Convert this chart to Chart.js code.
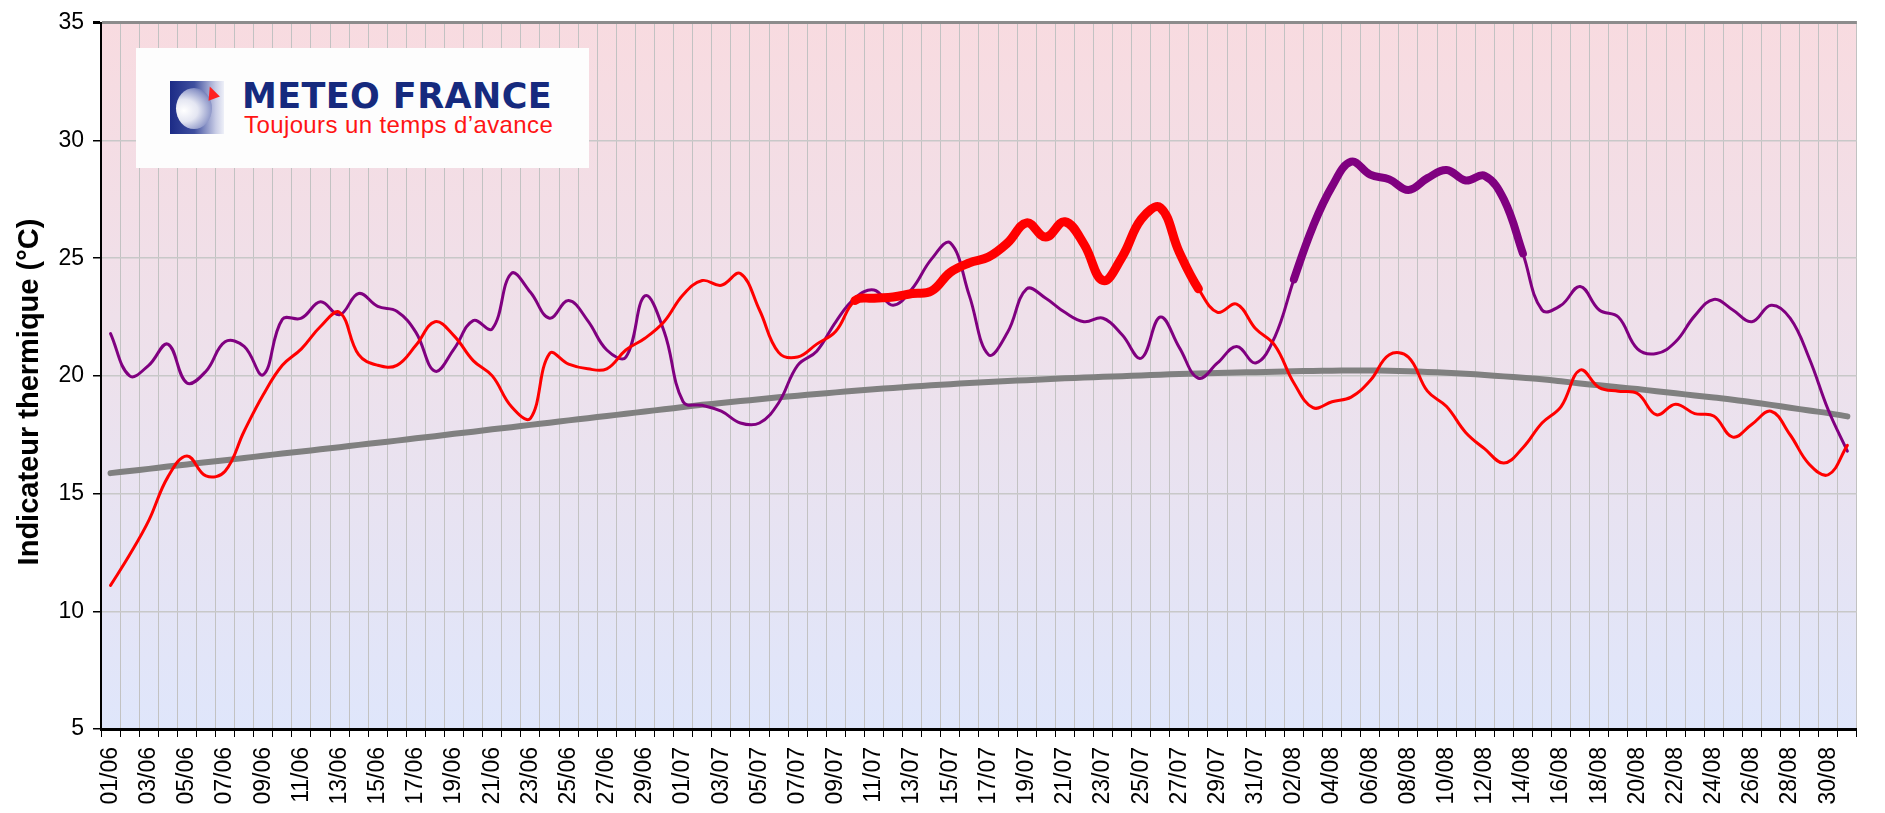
<!DOCTYPE html>
<html lang="fr">
<head>
<meta charset="utf-8">
<title>Indicateur thermique</title>
<script src="https://cdn.jsdelivr.net/npm/chart.js@4.4.0/dist/chart.umd.min.js"></script>
<style>
  body { margin: 0; background: #fff; }
  #wrap { position: relative; width: 1885px; height: 813px; }
  #graphe { display: block; }
  #logo { position: absolute; left: 136px; top: 48px; width: 453px; height: 120px; background: #fdfdfd;
          font-family: 'Liberation Sans', Arial, sans-serif; }
  #icone { position: absolute; left: 34px; top: 33px; width: 54px; height: 53px;
           background: linear-gradient(to right, #1c2b86 0%, #3f4f9f 45%, #c9cde6 85%, #eef0f8 100%); }
  #ovale { position: absolute; left: 6px; top: 7px; width: 36px; height: 41px; border-radius: 50%;
           background: radial-gradient(ellipse at 22% 55%, #ffffff 0%, #e4e6f2 35%, #8f98c9 70%, #2d3c91 100%); }
  #fleche { position: absolute; left: 36px; top: 5px; width: 0; height: 0;
            border-left: 6px solid transparent; border-right: 6px solid transparent; border-bottom: 13px solid #ff2020;
            transform: rotate(-20deg); }
  #marque { position: absolute; left: 106px; top: 33px; font-family: 'DejaVu Sans', sans-serif; font-size: 35px;
            line-height: 30px; font-weight: bold; color: #162a7e; letter-spacing: 0.4px; white-space: nowrap; }
  #devise { position: absolute; left: 108px; top: 66px; font-size: 24px; line-height: 22px; color: #ff1414;
            letter-spacing: 0.4px; white-space: nowrap; }
</style>
</head>
<body>
<div id="wrap">
  <canvas id="graphe" width="1885" height="813"></canvas>
  <div id="logo">
    <div id="icone"><div id="ovale"></div><div id="fleche"></div></div>
    <div id="marque">METEO FRANCE</div>
    <div id="devise">Toujours un temps d’avance</div>
  </div>
</div>
<script>
// jours du 01/06 au 31/08
var jours = [];
var nbJoursMois = [30, 31, 31];
var mois = ['06', '07', '08'];
for (var m = 0; m < 3; m++) {
    for (var j = 1; j <= nbJoursMois[m]; j++) {
        jours.push((j < 10 ? '0' + j : '' + j) + '/' + mois[m]);
    }
}

var yTicks = [5, 10, 15, 20, 25, 30, 35];

// courbe rouge
var serieRouge = [
    11.1, 12.4, 13.85, 15.7, 16.6, 15.75, 15.95, 17.65, 19.2, 20.45,
    21.15, 22.1, 22.7, 20.9, 20.45, 20.45, 21.3, 22.3, 21.7, 20.65,
    20.0, 18.7, 18.2, 20.95, 20.5, 20.3, 20.3, 21.1, 21.6, 22.3,
    23.45, 24.05, 23.85, 24.35, 22.8, 21.0, 20.8, 21.35, 21.9, 23.2,
    23.3, 23.35, 23.5, 23.6, 24.4, 24.8, 25.05, 25.65, 26.5, 25.9,
    26.55, 25.6, 24.05, 25.05, 26.65, 27.15, 25.25, 23.7, 22.7, 23.05,
    22.0, 21.3, 19.7, 18.65, 18.9, 19.1, 19.8, 20.9, 20.8, 19.35,
    18.7, 17.6, 16.9, 16.3, 16.95, 18.0, 18.7, 20.25, 19.5, 19.35,
    19.25, 18.35, 18.8, 18.4, 18.3, 17.4, 17.95, 18.5, 17.5, 16.25,
    15.8, 17.05
];

// courbe violette
var serieViolette = [
    21.8, 20.0, 20.45, 21.35, 19.7, 20.2, 21.45, 21.25, 20.05, 22.4,
    22.45, 23.15, 22.6, 23.5, 22.95, 22.75, 21.85, 20.2, 21.15, 22.35,
    22.0, 24.35, 23.55, 22.45, 23.2, 22.35, 21.1, 20.8, 23.4, 21.9,
    18.9, 18.75, 18.5, 18.0, 18.0, 18.85, 20.45, 21.05, 22.3, 23.3,
    23.65, 23.0, 23.7, 24.95, 25.65, 23.4, 20.9, 21.85, 23.7, 23.3,
    22.7, 22.3, 22.45, 21.75, 20.75, 22.5, 21.2, 19.9, 20.55, 21.25,
    20.55, 21.65, 24.1, 26.35, 28.05, 29.1, 28.55, 28.35, 27.9, 28.4,
    28.75, 28.3, 28.5, 27.5, 25.2, 22.8, 23.0, 23.8, 22.8, 22.5,
    21.15, 20.95, 21.45, 22.55, 23.25, 22.8, 22.3, 23.0, 22.45, 20.75,
    18.55, 16.8
];

// normale (courbe grise)
var normale = [
    15.87, 15.96, 16.05, 16.15, 16.24, 16.33, 16.42, 16.51, 16.61, 16.7,
    16.79, 16.88, 16.97, 17.07, 17.16, 17.25, 17.35, 17.44, 17.54, 17.63,
    17.73, 17.82, 17.92, 18.01, 18.11, 18.2, 18.3, 18.39, 18.49, 18.58,
    18.68, 18.77, 18.85, 18.93, 19.01, 19.09, 19.16, 19.23, 19.3, 19.37,
    19.43, 19.49, 19.55, 19.6, 19.65, 19.7, 19.74, 19.78, 19.82, 19.86,
    19.9, 19.93, 19.96, 19.99, 20.02, 20.05, 20.08, 20.1, 20.12, 20.14,
    20.16, 20.18, 20.2, 20.21, 20.22, 20.23, 20.23, 20.22, 20.2, 20.17,
    20.13, 20.09, 20.04, 19.98, 19.92, 19.86, 19.77, 19.68, 19.6, 19.52,
    19.44, 19.35, 19.26, 19.17, 19.08, 18.99, 18.88, 18.77, 18.65, 18.53,
    18.42, 18.28
];

// periodes de canicule (indices des jours, trait epais)
var caniculeRouge = [39, 57];
var caniculeViolette = [62, 74];

function epaisseur(periode, fin, epais) {
    return function (c) {
        if (c.p0DataIndex >= periode[0] && c.p1DataIndex <= periode[1]) return epais;
        return fin;
    };
}

var fondDegrade = {
    id: 'fondDegrade',
    beforeDraw: function (chart) {
        var ctx = chart.ctx, a = chart.chartArea;
        var g = ctx.createLinearGradient(0, a.top, 0, a.bottom);
        g.addColorStop(0, '#f8dbe0');
        g.addColorStop(0.5, '#ede1ec');
        g.addColorStop(1, '#dfe6fb');
        ctx.save();
        ctx.fillStyle = g;
        ctx.fillRect(a.left, a.top, a.width, a.height);
        ctx.restore();
    }
};

var police = "'Liberation Sans', Arial, sans-serif";
var ctx = document.getElementById('graphe').getContext('2d');
var graphe = new Chart(ctx, {
    type: 'line',
    data: {
        labels: jours,
        datasets: [{
            data: serieRouge,
            borderColor: '#ff0000',
            borderWidth: 3,
            borderCapStyle: 'round',
            segment: { borderWidth: epaisseur(caniculeRouge, 3, 9) }
        }, {
            data: serieViolette,
            borderColor: '#800080',
            borderWidth: 3,
            borderCapStyle: 'round',
            segment: { borderWidth: epaisseur(caniculeViolette, 3, 8) }
        }, {
            data: normale,
            borderColor: '#808080',
            borderWidth: 6,
            borderCapStyle: 'round'
        }]
    },
    options: {
        responsive: false,
        animation: false,
        events: [],
        devicePixelRatio: 1,
        layout: { padding: { top: 19, right: 6, left: 0, bottom: 0 } },
        elements: {
            point: { radius: 0 },
            line: { tension: 0.4, fill: false }
        },
        plugins: {
            legend: { display: false },
            tooltip: { enabled: false }
        },
        scales: {
            x: {
                offset: true,
                grid: {
                    offset: true,
                    color: function (c) { return c.index === jours.length ? '#8c8c8c' : '#c2c2c2'; },
                    lineWidth: function (c) { return c.index === jours.length ? 3 : 1; },
                    tickColor: '#000',
                    tickLength: 8
                },
                border: { color: '#000', width: 3 },
                ticks: {
                    autoSkip: false,
                    maxRotation: 90,
                    minRotation: 90,
                    padding: 10,
                    color: '#000',
                    font: { family: police, size: 23 },
                    callback: function (v, i) { return i % 2 === 0 ? jours[i] : ''; }
                },
                afterFit: function (s) { s.height = 84; }
            },
            y: {
                min: yTicks[0],
                max: yTicks[yTicks.length - 1],
                afterBuildTicks: function (s) { s.ticks = yTicks.map(function (v) { return { value: v }; }); },
                grid: {
                    color: function (c) { return c.tick && c.tick.value === 35 ? '#8c8c8c' : '#c8c8c8'; },
                    lineWidth: function (c) { return c.tick && c.tick.value === 35 ? 3 : 1.5; },
                    tickColor: '#000',
                    tickLength: 8
                },
                border: { color: '#000', width: 2 },
                ticks: {
                    padding: 9,
                    color: '#000',
                    font: { family: police, size: 23 }
                },
                title: {
                    display: true,
                    text: 'Indicateur thermique (°C)    ',
                    color: '#000',
                    font: { family: police, size: 29, weight: 'bold' },
                    padding: { top: 13, bottom: 0 }
                },
                afterFit: function (s) { s.width = 101; }
            }
        }
    },
    plugins: [fondDegrade]
});
</script>
</body>
</html>
